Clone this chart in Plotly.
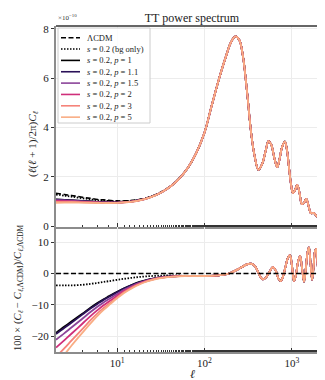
import plotly.graph_objects as go
from plotly.subplots import make_subplots

# multipoles where the models differ from LCDM
ell_low = [2, 2.5, 3, 4, 5, 6, 7, 8, 10, 12, 15, 18, 22, 27, 33, 40, 50]
dl_lcdm_low = [1.33, 1.28, 1.24, 1.17, 1.12, 1.08, 1.06, 1.04, 1.02, 1.02,
               1.04, 1.08, 1.15, 1.26, 1.41, 1.60, 1.90]

# acoustic peaks (units of 1e-10)
ell_high = [64, 80, 100, 120, 150, 180, 200, 225, 250, 275, 298, 312, 340, 372, 414,
            460, 500, 540, 580, 630, 678, 720, 770, 830, 880, 930, 980, 1026, 1080, 1150,
            1220, 1300, 1380, 1460, 1540, 1640, 1710, 1780, 1860, 1950, 2080, 2200, 2330,
            2460, 2500]
dl_lcdm_high = [2.35, 2.95, 3.8, 4.85, 6.1, 7.0, 7.45, 7.70, 7.55, 6.9, 5.86, 5.18, 3.83,
                2.89, 2.28, 2.55, 3.05, 3.45, 3.3, 2.75, 2.39, 2.7, 3.2, 3.43, 3.05, 2.3,
                1.65, 1.34, 1.45, 1.67, 1.35, 0.89, 0.95, 1.1, 0.85, 0.53, 0.52, 0.53, 0.45,
                0.38, 0.3, 0.24, 0.17, 0.1, 0.09]

# percent residuals at ell_low
res_bg = [-3.8, -3.8, -3.8, -3.6, -3.3, -3.0, -2.7, -2.45, -2.0, -1.7, -1.35, -1.1,
          -0.9, -0.75, -0.65, -0.6, -0.6]
res_p1 = [-18.9, -16.9, -15.3, -12.8, -10.8, -9.3, -8.2, -7.3, -5.8, -4.7, -3.5, -2.7,
          -2.0, -1.5, -1.1, -0.9, -0.8]
res_p11 = [-19.3, -17.3, -15.7, -13.1, -11.1, -9.6, -8.4, -7.5, -6.0, -4.8, -3.6, -2.8,
           -2.1, -1.55, -1.15, -0.95, -0.8]
res_p15 = [-21.1, -19.0, -17.2, -14.4, -12.2, -10.5, -9.2, -8.2, -6.5, -5.2, -3.9, -3.0,
           -2.2, -1.6, -1.2, -1.0, -0.85]
res_p2 = [-23.6, -21.2, -19.2, -16.0, -13.5, -11.6, -10.1, -9.0, -7.1, -5.6, -4.2, -3.2,
          -2.35, -1.7, -1.3, -1.0, -0.85]
res_p3 = [-26.5, -23.8, -21.4, -17.7, -14.8, -12.6, -11.0, -9.7, -7.6, -6.0, -4.4, -3.35,
          -2.45, -1.75, -1.35, -1.05, -0.9]
res_p5 = [-29.0, -25.8, -23.0, -18.9, -15.8, -13.4, -11.6, -10.2, -7.9, -6.2, -4.6, -3.5,
          -2.55, -1.85, -1.4, -1.1, -0.9]

# common high-ell residual (all models overlap here)
ell_tail = [60, 80, 100, 130, 160, 185, 210, 240, 270, 300, 340, 375, 405, 435, 464,
            500, 550, 605, 655, 700, 745, 790, 850, 900, 950, 1000, 1055, 1110, 1170, 1240,
            1300, 1374, 1440, 1510, 1565, 1630, 1700, 1760, 1840, 1900, 1960, 2030, 2100,
            2170, 2225, 2280, 2335, 2385, 2430, 2470, 2500]
res_tail = [-0.8, -0.8, -0.8, -0.7, -0.45, -0.1, 0.5, 1.3, 2.1, 2.8, 3.1, 2.4, 0.8, -1.0,
            -1.9, -1.4, 0.4, 2.0, 0.8, -1.6, -2.4, -1.0, 2.5, 5.0, 5.8, 2.5, -2.4, -0.5,
            3.5, 5.6, 2.0, -2.6, 1.5, 6.8, 8.3, 3.5, -2.0, 1.5, 7.2, 7.8, 3.5, -0.6, 4.5,
            9.0, 9.7, 5.0, 0.0, 4.5, 8.3, 6.0, 3.0]

names = ["ΛCDM", "<i>s</i> = 0.2 (bg only)", "<i>s</i> = 0.2, <i>p</i> = 1",
         "<i>s</i> = 0.2, <i>p</i> = 1.1", "<i>s</i> = 0.2, <i>p</i> = 1.5",
         "<i>s</i> = 0.2, <i>p</i> = 2", "<i>s</i> = 0.2, <i>p</i> = 3",
         "<i>s</i> = 0.2, <i>p</i> = 5"]
colors = ["#000000", "#000000", "#000000", "#2a1158", "#8b4499", "#cf2f7a",
          "#f5837a", "#f9ad84"]
dashes = ["5px,2.5px", "1.5px,1.5px", "solid", "solid", "solid", "solid", "solid", "solid"]
residuals = [res_bg, res_p1, res_p11, res_p15, res_p2, res_p3, res_p5]

FONT = "Liberation Serif"

fig = make_subplots(rows=2, cols=1, shared_xaxes=True, vertical_spacing=0)

ell_tt = ell_low + ell_high
dl_lcdm = dl_lcdm_low + dl_lcdm_high

# top panel
fig.add_trace(go.Scatter(x=ell_tt, y=dl_lcdm, mode="lines", line_shape="spline",
                         line=dict(color=colors[0], dash=dashes[0], width=1.6),
                         showlegend=False), 1, 1)
for res, col, dash in zip(residuals, colors[1:], dashes[1:]):
    dl_model = [d * (1 + r / 100) for d, r in zip(dl_lcdm_low, res)] + dl_lcdm_high
    fig.add_trace(go.Scatter(x=ell_tt, y=dl_model, mode="lines", line_shape="spline",
                             line=dict(color=col, dash=dash, width=1.8),
                             showlegend=False), 1, 1)

# bottom panel
for res, col, dash in zip(residuals, colors[1:], dashes[1:]):
    fig.add_trace(go.Scatter(x=ell_low + ell_tail, y=res + res_tail, mode="lines",
                             line_shape="spline",
                             line=dict(color=col, dash=dash, width=1.8),
                             showlegend=False), 2, 1)
zero = [(d - d) / d * 100 for d in dl_lcdm]
fig.add_trace(go.Scatter(x=ell_tt, y=zero, mode="lines",
                         line=dict(color=colors[0], dash=dashes[0], width=1.6),
                         showlegend=False), 2, 1)

axis_font = dict(family=FONT, size=11, color="#222")
fig.update_xaxes(type="log", range=[0.301, 3.401], tickvals=[10, 100, 1000],
                 ticktext=["10<sup>1</sup>", "10<sup>2</sup>", "10<sup>3</sup>"],
                 showgrid=True, gridcolor="#ececec", gridwidth=1,
                 showline=True, linecolor="#8c8c8c", linewidth=2,
                 ticks="inside", ticklen=4, tickcolor="#333",
                 minor=dict(ticks="inside", ticklen=2, tickcolor="#333", showgrid=False),
                 tickfont=axis_font, zeroline=False, automargin=False)
fig.update_xaxes(showticklabels=False, row=1, col=1)
fig.update_yaxes(showgrid=True, gridcolor="#ececec", showline=True, linecolor="#8c8c8c",
                 linewidth=2, ticks="outside", ticklen=3, tickcolor="#333",
                 tickfont=axis_font, zeroline=False, automargin=False)
fig.update_yaxes(range=[-0.04, 8.12], tickvals=[0, 2, 4, 6, 8], domain=[0.3834, 1],
                 row=1, col=1)
fig.update_yaxes(range=[-25, 14.8], tickvals=[-20, -10, 0, 10], domain=[0, 0.3834],
                 row=2, col=1)

# top and right spines
fig.add_shape(type="line", xref="paper", yref="paper", x0=0, x1=1, y0=1, y1=1,
              line=dict(color="#333", width=1.5))
fig.add_shape(type="line", xref="paper", yref="paper", x0=1, x1=1, y0=0, y1=1,
              line=dict(color="#333", width=1.5))

# legend drawn by hand in the upper panel (native rows are too tall)
def fx(px):
    return (px - 48) / 271


def fy(py):
    return (219 - py) / 201


def fpy(py):
    return (344 - py) / 326


fig.add_shape(type="rect", xref="x domain", yref="y domain", x0=fx(50), x1=fx(142),
              y0=fy(115), y1=fy(20), fillcolor="rgba(255,255,255,0.85)",
              line=dict(color="#cccccc", width=1))
for i, (name, col, dash) in enumerate(zip(names, colors, dashes)):
    yy = fy(29.7 + 11.35 * i)
    fig.add_shape(type="line", xref="x domain", yref="y domain", x0=fx(53), x1=fx(72),
                  y0=yy, y1=yy, line=dict(color=col, dash=dash, width=1.6))
    fig.add_annotation(xref="x domain", yref="y domain", x=fx(77), y=yy, text=name,
                       showarrow=False, xanchor="left", yanchor="middle",
                       font=dict(family=FONT, size=8.5, color="#222"))

# axis labels and annotations
fig.add_annotation(xref="paper", yref="paper", x=fx(25), y=fpy(136),
                   text="(<i>ℓ</i>(<i>ℓ</i> + 1)/2π)<i>C<sub>ℓ</sub></i>", textangle=-90,
                   showarrow=False, xanchor="center", yanchor="middle",
                   font=dict(family=FONT, size=11, color="#222"))
fig.add_annotation(xref="paper", yref="paper", x=fx(10), y=fpy(280),
                   text="100 × (<i>C<sub>ℓ</sub></i> − <i>C</i><sub><i>ℓ</i>,ΛCDM</sub>)/<i>C</i><sub><i>ℓ</i>,ΛCDM</sub>",
                   textangle=-90, showarrow=False, xanchor="center", yanchor="middle",
                   font=dict(family=FONT, size=10.5, color="#222"))
fig.add_annotation(xref="paper", yref="paper", x=fx(184), y=fpy(366), text="<i>ℓ</i>",
                   showarrow=False, xanchor="center", yanchor="middle",
                   font=dict(family=FONT, size=12, color="#222"))
fig.add_annotation(xref="paper", yref="paper", x=0, y=1.005, text="×10<sup>−10</sup>",
                   showarrow=False, xanchor="left", yanchor="bottom",
                   font=dict(family=FONT, size=7, color="#333"))

fig.update_layout(
    width=325, height=380,
    title=dict(text="TT power spectrum", x=fx(184) * 271 / 325 + 48 / 325,
               xanchor="center", y=1 - 10 / 380, yanchor="middle",
               font=dict(family=FONT, size=12, color="#222")),
    margin=dict(l=48, r=6, t=18, b=36),
    plot_bgcolor="white", paper_bgcolor="white",
    showlegend=False,
    font=dict(family=FONT),
)

fig.write_html("out.html")
